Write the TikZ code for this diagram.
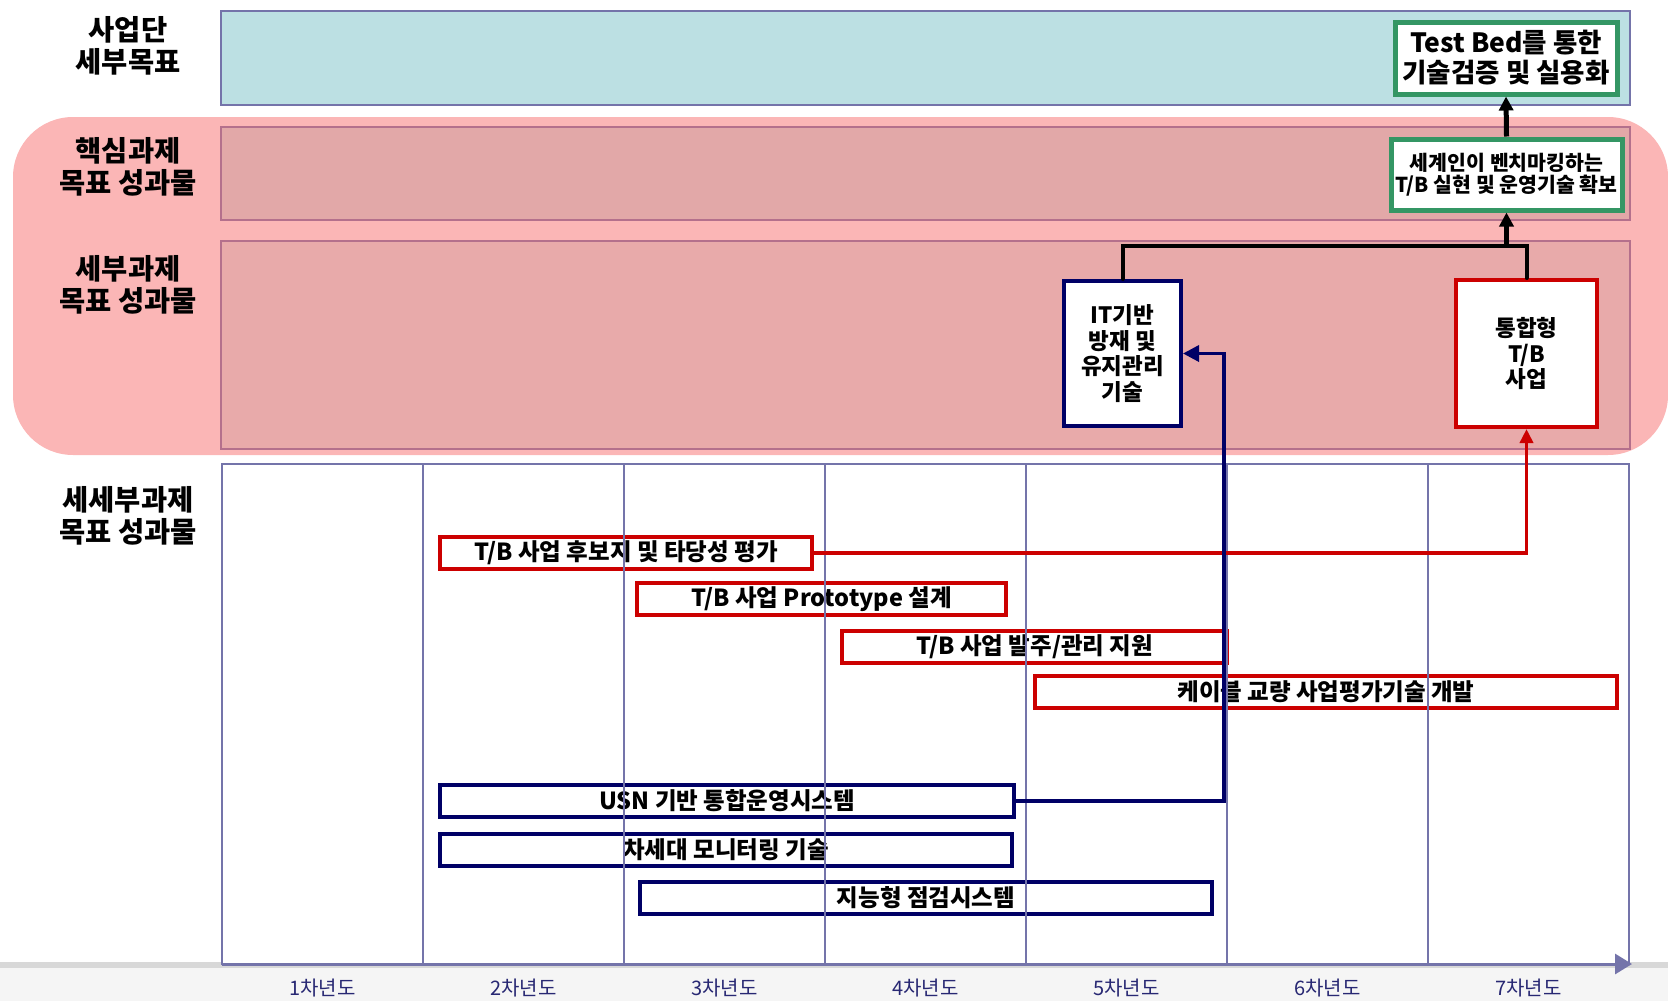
\documentclass[tikz,border=0pt]{standalone}
\usepackage{fontspec}
\setmainfont{Noto Sans CJK KR}
\usetikzlibrary{arrows.meta,positioning,calc}
\definecolor{gridblue}{RGB}{116,116,170}
\definecolor{goalcyan}{RGB}{188,224,227}
\definecolor{bandpink}{RGB}{251,182,182}
\definecolor{corepink}{RGB}{226,168,168}
\definecolor{subpink}{RGB}{232,170,170}
\definecolor{rowedge}{RGB}{180,112,140}
\definecolor{tbred}{RGB}{204,0,0}
\definecolor{itnavy}{RGB}{0,0,102}
\definecolor{goalgreen}{RGB}{52,150,100}
\definecolor{yearblue}{RGB}{40,40,115}
\definecolor{axisgray}{RGB}{245,245,245}
\definecolor{axisline}{RGB}{216,216,216}

\tikzset{
  rowlabel/.style={font=\fontsize{28.5}{31.5}\selectfont\bfseries, align=center},
  yearlabel/.style={font=\fontsize{20}{22}\selectfont, text=yearblue},
  goalbox/.style={draw=goalgreen, line width=5pt, fill=white, align=center, inner sep=0pt},
  resultbox/.style={line width=4pt, fill=white, align=center, inner sep=0pt,
    font=\fontsize{22.5}{25.5}\selectfont\bfseries},
  redbar/.style={draw=tbred, line width=4pt, fill=white, inner sep=0pt,
    minimum height=32pt, font=\fontsize{23.5}{25}\selectfont\bfseries},
  navybar/.style={redbar, draw=itnavy},
  upline/.style={line width=5pt, -{Triangle[length=14pt,width=14pt]}},
}

\begin{document}
\begin{tikzpicture}[x=1pt, y=-1pt]
  \useasboundingbox (0,0) rectangle (1668,1001);

  % Bands
  \fill[bandpink, rounded corners=60pt] (13,117) rectangle (1668,455);
  \draw[line width=2pt, gridblue, fill=goalcyan] (221,11) rectangle (1630,105);
  \draw[line width=2pt, rowedge, fill=corepink] (221,127) rectangle (1630,220);
  \draw[line width=2pt, rowedge, fill=subpink] (221,241) rectangle (1630,449);

  % Timeline frame
  \fill[axisgray] (0,964) rectangle (1668,1001);
  \fill[axisline] (0,962) rectangle (1668,968);
  \draw[line width=2pt, gridblue, fill=white] (222,464) rectangle (1629,964);

  \node[rowlabel] (goalrow) at (128,46) {사업단\\세부목표};
  \node[rowlabel] (corerow) at (128,167) {핵심과제\\목표 성과물};
  \node[rowlabel] (subrow) at (128,285) {세부과제\\목표 성과물};
  \node[rowlabel] (subsubrow) at (128,516) {세세부과제\\목표 성과물};

  % Goals
  \node[goalbox, minimum width=222pt, minimum height=72pt,
    font=\fontsize{26.5}{30}\selectfont\bfseries] (testbed) at (1506,58)
    {Test Bed를 통한\\기술검증 및 실용화};
  \node[goalbox, minimum width=231pt, minimum height=71pt,
    font=\fontsize{20.5}{22}\selectfont\bfseries] (benchmark) at (1506.5,174.5)
    {세계인이 벤치마킹하는\\T/B 실현 및 운영기술 확보};
  \node[resultbox, draw=itnavy, minimum width=117pt, minimum height=145pt] (itbox)
    at (1122.5,353.5) {IT기반\\방재 및\\유지관리\\기술};
  \node[resultbox, draw=tbred, minimum width=141pt, minimum height=147pt] (tbbox)
    at (1526.5,353.5) {통합형\\T/B\\사업};

  % Yearly tasks
  \node[redbar, minimum width=372pt] (site) at (626,553) {T/B 사업 후보지 및 타당성 평가};
  \node[redbar, minimum width=369pt] (proto) at (821.5,599) {T/B 사업 Prototype 설계};
  \node[redbar, minimum width=385pt] (order) at (1034.5,646.5) {T/B 사업 발주/관리 지원};
  \node[redbar, minimum width=582pt] (cable) at (1326,692) {케이블 교량 사업평가기술 개발};
  \node[navybar, minimum width=574pt] (usn) at (727,801) {USN 기반 통합운영시스템};
  \node[navybar, minimum width=572pt] (monitor) at (726,850) {차세대 모니터링 기술};
  \node[navybar, minimum width=572pt] (inspect) at (926,898) {지능형 점검시스템};

  \foreach \x in {423,624,...,1428}
    \draw[line width=2pt, gridblue] (\x,464) -- (\x,964);
  \draw[line width=3pt, gridblue, -{Triangle[length=17pt,width=20pt]}] (222,964) -- (1632,964);
  \foreach \i in {1,...,7}
    \node[yearlabel] (year\i) at ({121.5+201*\i},988) {{\i}차년도};

  % Links
  \coordinate (tbjoin) at (1526.5,246);
  \draw[line width=4pt, line cap=round] (itbox.north) |- (tbjoin) -- (tbbox.north);
  \draw[upline] (benchmark.south |- tbjoin) -- (benchmark.south);
  \draw[upline] (benchmark.north) -- (testbed.south);
  \draw[line width=3.5pt, tbred, -{Triangle[length=14pt,width=13pt]}] (site.east) -| (tbbox.south);
  \coordinate (usnbend) at (1224,0);
  \draw[line width=3.5pt, itnavy, -{Triangle[length=16pt,width=16pt]}]
    (usn.east) -| (usnbend |- itbox.east) -- (itbox.east);
\end{tikzpicture}
\end{document}
